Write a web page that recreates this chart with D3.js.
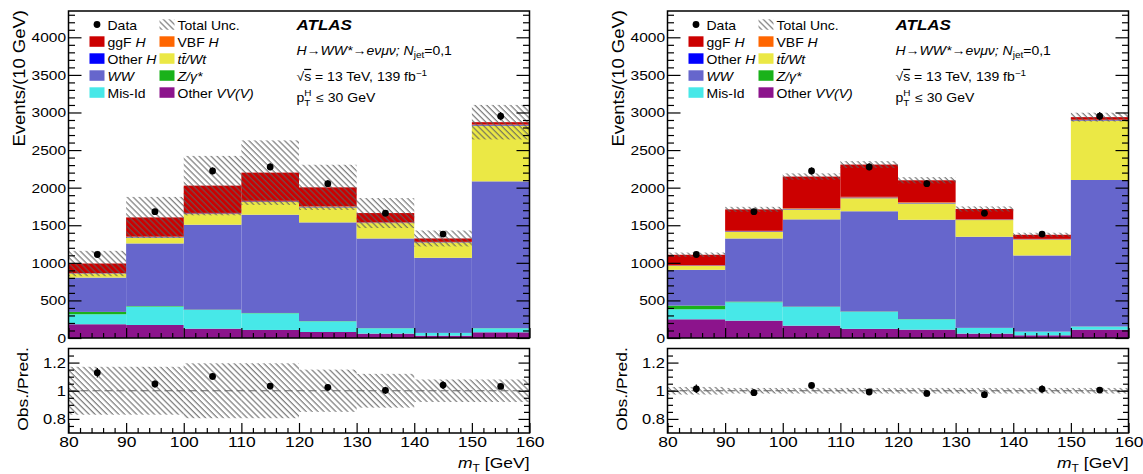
<!DOCTYPE html>
<html><head><meta charset="utf-8">
<script src="https://cdn.jsdelivr.net/npm/d3@7"></script>
<style>body{margin:0;background:#fff}svg{display:block}</style>
</head><body>
<script>
// ---------------- data ----------------
const binEdges = [80, 90, 100, 110, 120, 130, 140, 150, 160];
const dataCounts = [1111, 1680, 2222, 2276, 2053, 1660, 1382, 2951];
const dataErrors = [33, 41, 47, 48, 45, 41, 37, 54];

// left panel components (events / 10 GeV)
const leftOtherVV = [183, 173, 124, 107, 80, 58, 31, 76];
const leftMisId   = [133, 245, 249, 222, 142, 71, 36, 53];
const leftZgamma  = [31, 7, 5, 4, 3, 2, 1, 2];
const leftWW      = [457, 833, 1129, 1307, 1313, 1193, 999, 1953];
const leftTop     = [53, 80, 142, 169, 200, 205, 204, 743];
const leftOtherH  = [4, 6, 8, 8, 8, 6, 4, 8];
const leftVBF     = [3, 5, 7, 8, 8, 6, 4, 5];
const leftGgF     = [127, 255, 363, 375, 250, 121, 45, 31];
const leftUnc     = [0.17, 0.17, 0.195, 0.195, 0.15, 0.12, 0.08, 0.08];
const leftRatio   = [1.128, 1.048, 1.102, 1.033, 1.024, 1.003, 1.040, 1.031];

// right panel components
const rightOtherVV = [249, 231, 164, 122, 111, 58, 36, 111];
const rightMisId   = [133, 245, 249, 227, 138, 75, 48, 40];
const rightZgamma  = [49, 8, 5, 4, 3, 2, 1, 2];
const rightWW      = [476, 840, 1160, 1333, 1321, 1212, 1013, 1949];
const rightTop     = [53, 89, 133, 174, 218, 222, 213, 791];
const rightOtherH  = [5, 7, 9, 9, 9, 7, 4, 6];
const rightVBF     = [4, 6, 9, 9, 9, 6, 4, 5];
const rightGgF     = [138, 285, 418, 429, 289, 134, 54, 34];
const rightUnc     = [0.027, 0.02, 0.02, 0.02, 0.02, 0.02, 0.02, 0.02];
const rightRatio   = [1.014, 0.986, 1.038, 0.991, 0.981, 0.972, 1.012, 1.005];

const sampleKeys = ["otherVV", "misId", "zgamma", "WW", "top", "otherH", "VBF", "ggF"];
const yTicksMain = [0, 500, 1000, 1500, 2000, 2500, 3000, 3500, 4000];
const yTicksRatio = [0.8, 1, 1.2];
const xTicks = [80, 90, 100, 110, 120, 130, 140, 150, 160];
const legendCol1 = ["Data", "ggF <i>H</i>", "Other <i>H</i>", "<i>WW</i>", "Mis-Id"];
const legendCol2 = ["Total Unc.", "VBF <i>H</i>", "<i>t</i><i>t\u0304/Wt</i>", "<i>Z/\u03b3*</i>", "Other <i>VV(V)</i>"];
const legendKeys1 = ["data", "ggF", "otherH", "WW", "misId"];
const legendKeys2 = ["unc", "VBF", "top", "zgamma", "otherVV"];

// ---------------- styles ----------------
const colors = {ggF:"#cc0000", VBF:"#ff6600", otherH:"#0000ff", WW:"#6666cc",
  top:"#ebe845", zgamma:"#1ab21a", misId:"#47e8e8", otherVV:"#8c148c"};
const FONT = "'Liberation Sans', Arial, Helvetica, sans-serif";
const K = 0.88;

const W = 1143, H = 474;
const svg = d3.select("body").append("svg").attr("width", W).attr("height", H);
const defs = svg.append("defs");
const pat = defs.append("pattern").attr("id", "hatch").attr("patternUnits", "userSpaceOnUse")
  .attr("width", 4.2).attr("height", 10).attr("patternTransform", "rotate(-45)");
pat.append("line").attr("x1", 1).attr("y1", -1).attr("x2", 1).attr("y2", 11)
  .attr("stroke", "#5e5e5e").attr("stroke-width", 1);

function txt(parent, x, y, size, anchor, rot) {
  const g = parent.append("g").attr("transform", `translate(${x},${y})${rot ? ` rotate(${rot})` : ""} scale(1,${K})`);
  return g.append("text").attr("font-family", FONT).attr("font-size", size)
    .attr("text-anchor", anchor || "start").attr("fill", "#000");
}
function rich(t, s) {
  s.split(/(<i>.*?<\/i>)/).filter(p => p.length).forEach(p => {
    if (p.startsWith("<i>")) t.append("tspan").attr("font-style", "italic").text(p.slice(3, -4));
    else t.append("tspan").text(p);
  });
  return t;
}

function panel(ox, comps, unc, ratio) {
  const g = svg.append("g");
  const X0 = ox + 68.5, X1 = ox + 529.5;
  const x = d3.scaleLinear().domain([80, 160]).range([X0, X1]);
  const y = d3.scaleLinear().domain([0, 4350]).range([338, 11]);
  const yr = d3.scaleLinear().domain([0.7, 1.3]).range([433, 348.5]);

  const rows = binEdges.slice(0, -1).map((lo, i) => {
    const r = {lo: lo, hi: binEdges[i + 1]};
    sampleKeys.forEach(k => r[k] = comps[k][i]);
    return r;
  });
  const stacked = d3.stack().keys(sampleKeys)(rows);
  stacked.forEach(layer => {
    g.append("g").selectAll("rect").data(layer).join("rect")
      .attr("x", d => x(d.data.lo)).attr("width", d => x(d.data.hi) - x(d.data.lo))
      .attr("y", d => y(d[1])).attr("height", d => Math.max(0, y(d[0]) - y(d[1])))
      .attr("fill", colors[layer.key]);
  });
  const totals = rows.map(r => d3.sum(sampleKeys, k => r[k]));
  // uncertainty band
  g.append("g").selectAll("rect").data(rows).join("rect")
    .attr("x", d => x(d.lo)).attr("width", d => x(d.hi) - x(d.lo))
    .attr("y", (d, i) => y(totals[i] * (1 + unc[i])))
    .attr("height", (d, i) => y(totals[i] * (1 - unc[i])) - y(totals[i] * (1 + unc[i])))
    .attr("fill", "url(#hatch)");
  // data
  const dg = g.append("g");
  dg.selectAll("line").data(rows).join("line")
    .attr("x1", d => x((d.lo + d.hi) / 2)).attr("x2", d => x((d.lo + d.hi) / 2))
    .attr("y1", (d, i) => y(dataCounts[i] - dataErrors[i])).attr("y2", (d, i) => y(dataCounts[i] + dataErrors[i]))
    .attr("stroke", "#000").attr("stroke-width", 1.2);
  dg.selectAll("circle").data(rows).join("circle")
    .attr("cx", d => x((d.lo + d.hi) / 2)).attr("cy", (d, i) => y(dataCounts[i])).attr("r", 3.4).attr("fill", "#000");

  // ratio panel
  g.append("g").selectAll("rect").data(rows).join("rect")
    .attr("x", d => x(d.lo)).attr("width", d => x(d.hi) - x(d.lo))
    .attr("y", (d, i) => yr(1 + unc[i])).attr("height", (d, i) => yr(1 - unc[i]) - yr(1 + unc[i]))
    .attr("fill", "url(#hatch)");
  g.append("line").attr("x1", X0).attr("x2", X1).attr("y1", yr(1)).attr("y2", yr(1))
    .attr("stroke", "#666").attr("stroke-width", 1.2).attr("stroke-dasharray", "8,4");
  const rg = g.append("g");
  rg.selectAll("line").data(rows).join("line")
    .attr("x1", d => x((d.lo + d.hi) / 2)).attr("x2", d => x((d.lo + d.hi) / 2))
    .attr("y1", (d, i) => yr(ratio[i] - dataErrors[i] / totals[i]))
    .attr("y2", (d, i) => yr(ratio[i] + dataErrors[i] / totals[i]))
    .attr("stroke", "#000").attr("stroke-width", 1.2);
  rg.selectAll("circle").data(rows).join("circle")
    .attr("cx", d => x((d.lo + d.hi) / 2)).attr("cy", (d, i) => yr(ratio[i])).attr("r", 3.4).attr("fill", "#000");

  // axes
  function styleAxis(a, size, labels) {
    a.select(".domain").remove();
    a.selectAll("line").attr("stroke", "#000").attr("stroke-width", 1.2);
    a.attr("font-family", FONT).attr("font-size", size);
    a.selectAll("text").attr("fill", "#000").attr("transform", `scale(1,${K})`);
    if (!labels) a.selectAll("text").remove();
  }
  const minorMain = d3.range(100, 4350, 100).filter(v => v % 500 !== 0);
  const minorRatio = [0.75, 0.85, 0.9, 0.95, 1.05, 1.1, 1.15, 1.25];
  const minorX = d3.range(82, 160, 2).filter(v => v % 10 !== 0);
  // main y
  g.append("g").attr("transform", `translate(${X0},0)`).call(d3.axisLeft(y).tickValues(yTicksMain).tickSize(-13).tickPadding(2.5).tickFormat(d3.format("d"))).call(a => styleAxis(a, 15.5, true));
  g.append("g").attr("transform", `translate(${X0},0)`).call(d3.axisLeft(y).tickValues(minorMain).tickSize(-6.5)).call(a => styleAxis(a, 10, false));
  g.append("g").attr("transform", `translate(${X1},0)`).call(d3.axisRight(y).tickValues(yTicksMain).tickSize(-13)).call(a => styleAxis(a, 10, false));
  g.append("g").attr("transform", `translate(${X1},0)`).call(d3.axisRight(y).tickValues(minorMain).tickSize(-6.5)).call(a => styleAxis(a, 10, false));
  g.append("g").attr("transform", `translate(0,338)`).call(d3.axisBottom(x).tickValues(xTicks).tickSize(-10)).call(a => styleAxis(a, 10, false));
  g.append("g").attr("transform", `translate(0,338)`).call(d3.axisBottom(x).tickValues(minorX).tickSize(-5)).call(a => styleAxis(a, 10, false));
  // ratio y
  g.append("g").attr("transform", `translate(${X0},0)`).call(d3.axisLeft(yr).tickValues(yTicksRatio).tickSize(-11).tickPadding(2.5).tickFormat(d => d === 1 ? "1" : d3.format(".1f")(d))).call(a => styleAxis(a, 16.5, true));
  g.append("g").attr("transform", `translate(${X0},0)`).call(d3.axisLeft(yr).tickValues(minorRatio).tickSize(-5.5)).call(a => styleAxis(a, 10, false));
  g.append("g").attr("transform", `translate(${X1},0)`).call(d3.axisRight(yr).tickValues(yTicksRatio).tickSize(-11)).call(a => styleAxis(a, 10, false));
  g.append("g").attr("transform", `translate(${X1},0)`).call(d3.axisRight(yr).tickValues(minorRatio).tickSize(-5.5)).call(a => styleAxis(a, 10, false));
  g.append("g").attr("transform", `translate(0,433)`).call(d3.axisBottom(x).tickValues(xTicks).tickSize(-10).tickPadding(4)).call(a => styleAxis(a, 17.5, true));
  g.append("g").attr("transform", `translate(0,433)`).call(d3.axisBottom(x).tickValues(minorX).tickSize(-5)).call(a => styleAxis(a, 10, false));

  // frames
  g.append("rect").attr("x", X0).attr("y", 11).attr("width", X1 - X0).attr("height", 327)
    .attr("fill", "none").attr("stroke", "#000").attr("stroke-width", 1.5);
  g.append("rect").attr("x", X0).attr("y", 348.5).attr("width", X1 - X0).attr("height", 84.5)
    .attr("fill", "none").attr("stroke", "#000").attr("stroke-width", 1.5);

  // axis titles
  txt(g, ox + 25, 10, 18.5, "end", -90).text("Events/(10 GeV)");
  txt(g, ox + 28, 389, 17.5, "middle", -90).text("Obs./Pred.");
  const xt = txt(g, X1, 468, 17.5, "end");
  xt.append("tspan").attr("font-style", "italic").text("m");
  xt.append("tspan").attr("font-size", 12).attr("dy", 4).text("T");
  xt.append("tspan").attr("dy", -4).text(" [GeV]");

  // legend
  legendCol1.forEach((lab, i) => {
    const cy = 24.5 + 17 * i, key = legendKeys1[i];
    if (key === "data") g.append("circle").attr("cx", ox + 97).attr("cy", cy).attr("r", 3.4).attr("fill", "#000");
    else g.append("rect").attr("x", ox + 89.5).attr("y", cy - 5.2).attr("width", 15).attr("height", 10.5).attr("fill", colors[key]);
    rich(txt(g, ox + 107.5, cy + 5, 14, "start"), lab);
  });
  legendCol2.forEach((lab, i) => {
    const cy = 24.5 + 17 * i, key = legendKeys2[i];
    if (key === "unc") g.append("rect").attr("x", ox + 159.5).attr("y", cy - 5.2).attr("width", 15).attr("height", 10.5).attr("fill", "url(#hatch)");
    else g.append("rect").attr("x", ox + 159.5).attr("y", cy - 5.2).attr("width", 15).attr("height", 10.5).attr("fill", colors[key]);
    rich(txt(g, ox + 177.5, cy + 5, 14, "start"), lab);
  });

  // info text
  const tx = ox + 296.5;
  txt(g, tx, 29.5, 17, "start").attr("font-weight", "bold").attr("font-style", "italic").text("ATLAS");
  const l2 = txt(g, tx, 54.5, 14, "start");
  l2.append("tspan").attr("font-style", "italic").text("H");
  l2.append("tspan").text("\u2192");
  l2.append("tspan").attr("font-style", "italic").text("WW*");
  l2.append("tspan").text("\u2192");
  l2.append("tspan").attr("font-style", "italic").text("e\u03bd\u03bc\u03bd; N");
  l2.append("tspan").attr("font-size", 10).attr("dy", 4).text("jet");
  l2.append("tspan").attr("dy", -4).text("=0,1");
  const l3 = txt(g, tx, 81, 14, "start");
  l3.append("tspan").text("\u221a");
  l3.append("tspan").style("text-decoration", "overline").text("s");
  l3.append("tspan").text(" = 13 TeV, 139 fb");
  l3.append("tspan").attr("font-size", 10).attr("dy", -6).text("\u22121");
  const l4 = txt(g, tx, 101.5, 14, "start");
  l4.append("tspan").text("p");
  l4.append("tspan").attr("font-size", 10).attr("dy", -6).text("H");
  l4.append("tspan").attr("font-size", 10).attr("dx", -7.2).attr("dy", 11).text("T");
  l4.append("tspan").attr("dx", 2).attr("dy", -5).text(" \u2264 30 GeV");
}

panel(0, {otherVV: leftOtherVV, misId: leftMisId, zgamma: leftZgamma, WW: leftWW, top: leftTop,
  otherH: leftOtherH, VBF: leftVBF, ggF: leftGgF}, leftUnc, leftRatio);
panel(599, {otherVV: rightOtherVV, misId: rightMisId, zgamma: rightZgamma, WW: rightWW, top: rightTop,
  otherH: rightOtherH, VBF: rightVBF, ggF: rightGgF}, rightUnc, rightRatio);
</script>
</body></html>
